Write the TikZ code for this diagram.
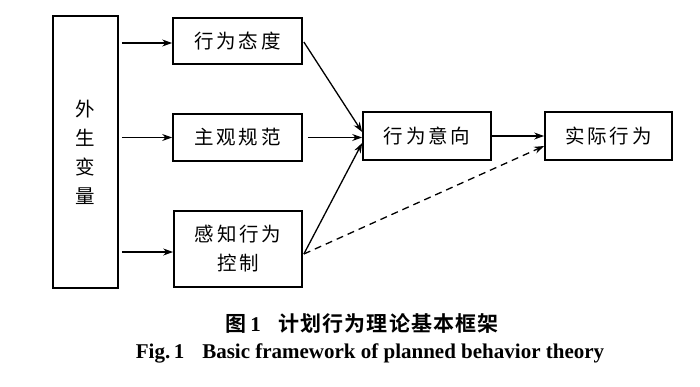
\documentclass[tikz,border=0pt]{standalone}
\usepackage{fontspec}
\setmainfont{Liberation Serif}
\newfontfamily\cjk[LetterSpace=14]{Noto Sans CJK SC}
\newfontfamily\cjkcap[LetterSpace=5]{Noto Sans CJK SC Bold}
\usetikzlibrary{calc, positioning, arrows.meta}

\begin{document}
\begin{tikzpicture}[x=1pt, y=-1pt, >={Stealth[length=10pt, width=7pt]},
  box/.style={draw, line width=1.7pt, inner sep=0pt, align=center,
    font=\fontsize{19.5}{29}\cjk},
  link/.style={->, line width=1.3pt}]
  \useasboundingbox (0,0) rectangle (700,386);
  % boxes
  \node[box, minimum width=65pt, minimum height=272pt] (ext) at (85.5,152) {外\\生\\变\\量};
  \node[box, minimum width=129pt, minimum height=46pt] (att) at (237.5,41) {行为态度};
  \node[box, minimum width=129pt, minimum height=47pt] (norm) at (237.5,137.5) {主观规范};
  \node[box, minimum width=128pt, minimum height=76pt] (ctrl) at (238,249) {感知行为\\控制};
  \node[box, minimum width=128pt, minimum height=48pt] (intent) at (427,136) {行为意向};
  \node[box, minimum width=127pt, minimum height=48pt] (act) at (608.5,136) {实际行为};
  % arrows from the exogenous box
  \draw[link, shorten <=3pt] (ext.east |- 0,43) -- (att.west |- 0,43);
  \draw[link, shorten <=3pt] (ext.east |- norm.west) -- (norm.west);
  \draw[link, shorten <=3pt] (ext.east |- 0,252) -- (ctrl.west |- 0,252);
  % arrows into the intention
  \coordinate (ctrlout) at ($(ctrl.east)+(1,5)$);
  \draw[link] ($(att.east)+(1,1)$) -- ($(intent.west)+(0,-4)$);
  \draw[link, shorten <=5pt] (norm.east) -- (intent.west |- norm.east);
  \draw[link] (ctrlout) -- ($(intent.west)+(0,7)$);
  \draw[link] (intent.east) -- (act.west |- intent.east);
  \draw[link, dashed, dash pattern=on 7pt off 5pt] (ctrlout) -- ($(act.west)+(0,10)$);
  % caption
  \node[font=\fontsize{21}{24}\cjkcap] (capcn) at (362,323)
    {图\,{\rmfamily\bfseries 1}\hspace{18pt}计划行为理论基本框架};
  \node[font=\fontsize{21}{24}\rmfamily\bfseries] (capen) at (370,353)
    {Fig.\,1\hspace{18pt}Basic framework of planned behavior theory};
\end{tikzpicture}
\end{document}
